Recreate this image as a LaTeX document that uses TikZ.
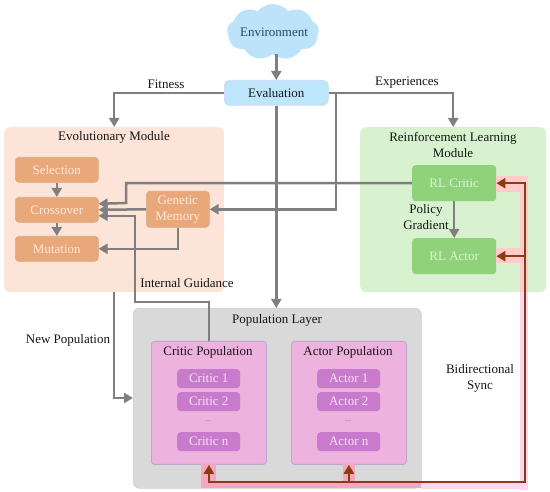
\documentclass[tikz,border=0pt]{standalone}
\usepackage{fontspec}
\setmainfont{Liberation Serif}
\usetikzlibrary{shapes.symbols,arrows.meta,calc}
\definecolor{flow}{HTML}{7F7F7F}
\definecolor{sync}{HTML}{8E3A10}
\definecolor{halogreen}{HTML}{FFCBCB}
\definecolor{halowhite}{HTML}{FFD6F2}
\definecolor{halogray}{HTML}{F4A8C0}
\tikzset{
  x=1pt,y=-1pt,
  txt/.style={font=\fontsize{13}{16}\selectfont,align=center,inner sep=0pt,text=black!92},
  panel/.style={rounded corners=6pt,anchor=north west,inner sep=0pt},
  evopanel/.style={panel,fill={rgb,255:red,252;green,228;blue,216}},
  rlpanel/.style={panel,fill={rgb,255:red,216;green,242;blue,208}},
  poppanel/.style={panel,fill={rgb,255:red,217;green,217;blue,217},draw={rgb,255:red,205;green,205;blue,210},line width=.5pt},
  subpanel/.style={rounded corners=3pt,anchor=north west,inner sep=0pt,fill={rgb,255:red,237;green,178;blue,222},draw={rgb,255:red,190;green,165;blue,205},line width=.8pt},
  box/.style={rounded corners=3.5pt,anchor=north west,inner sep=0pt,align=center,font=\fontsize{13}{16}\selectfont},
  evobox/.style={box,fill={rgb,255:red,233;green,168;blue,122},draw={rgb,255:red,218;green,170;blue,125},text={rgb,255:red,253;green,232;blue,218},line width=.6pt},
  rlbox/.style={box,fill={rgb,255:red,143;green,210;blue,122},text={rgb,255:red,222;green,244;blue,212}},
  popbox/.style={box,fill={rgb,255:red,200;green,122;blue,204},text={rgb,255:red,250;green,225;blue,245}},
  flowline/.style={draw=flow,line width=2.5pt,-{Triangle[length=9pt,width=10pt]}},
  syncline/.style={draw=sync,line width=2.5pt,-{Triangle[length=9pt,width=10pt]}},
  syncplain/.style={draw=sync,line width=2.5pt},
}
\begin{document}
\begin{tikzpicture}
\useasboundingbox (0,0) rectangle (550,492);
% halo parts lying on white, under the panels
\fill[halowhite] (520,292) rectangle (528,490);
\fill[halowhite] (421,482) rectangle (528,489);
% panels
\node[evopanel,minimum width=220pt,minimum height=165pt] (evo) at (4,127) {};
\node[rlpanel,minimum width=186pt,minimum height=165pt] (rl) at (360,127) {};
\node[poppanel,minimum width=288pt,minimum height=180pt] (pop) at (133,308) {};
\node[subpanel,minimum width=115pt,minimum height=123pt] (critpop) at (151,341) {};
\node[subpanel,minimum width=115pt,minimum height=123pt] (actpop) at (291,341) {};
% top
\node[cloud,cloud puffs=9,cloud puff arc=100,aspect=1.6,fill={rgb,255:red,189;green,227;blue,250},draw=none,inner sep=0pt,minimum width=92pt,minimum height=56pt] (env) at (273,32) {};
\node[txt,text={rgb,255:red,30;green,75;blue,95}] (envlabel) at (274,32) {Environment};
\node[box,rounded corners=5pt,fill={rgb,255:red,189;green,230;blue,250},draw={rgb,255:red,205;green,215;blue,240},line width=.6pt,minimum width=104pt,minimum height=25pt,text=black!90] (eval) at (224,80) {Evaluation};
% evolutionary
\node[evobox,minimum width=83pt,minimum height=25pt] (sel) at (15,157) {Selection};
\node[evobox,minimum width=83pt,minimum height=25pt] (cross) at (15,197) {Crossover};
\node[evobox,minimum width=83pt,minimum height=25pt] (mut) at (15,236) {Mutation};
\node[evobox,minimum width=63pt,minimum height=36pt] (mem) at (146,191) {Genetic\\Memory};
% RL
\node[rlbox,minimum width=84pt,minimum height=36pt] (rlc) at (412,165) {RL Critic};
\node[rlbox,minimum width=84pt,minimum height=36pt] (rla) at (412,238) {RL Actor};
% population boxes
\node[popbox,minimum width=63pt,minimum height=19pt] (c1) at (177,369) {Critic 1};
\node[popbox,minimum width=63pt,minimum height=19pt] (c2) at (177,392) {Critic 2};
\node[popbox,minimum width=63pt,minimum height=19pt] (cn) at (177,432) {Critic n};
\node[popbox,minimum width=63pt,minimum height=19pt] (a1) at (317,369) {Actor 1};
\node[popbox,minimum width=63pt,minimum height=19pt] (a2) at (317,392) {Actor 2};
\node[popbox,minimum width=63pt,minimum height=19pt] (an) at (317,432) {Actor n};
% titles & labels
\node[txt] (tevo) at (114,137) {Evolutionary Module};
\node[txt] (trl) at (453,145) {Reinforcement Learning\\Module};
\node[txt] (tpop) at (277,320) {Population Layer};
\node[txt] (tcp) at (208,352) {Critic Population};
\node[txt] (tap) at (348,352) {Actor Population};
\node[txt,font=\fontsize{8}{9}\selectfont,text=black!55] (cd) at (208,421) {...};
\node[txt,font=\fontsize{8}{9}\selectfont,text=black!55] (ad) at (348,421) {...};
\node[txt] (lfit) at (166,84) {Fitness};
\node[txt] (lexp) at (407,83) {Experiences};
\node[txt] (lint) at (187,283) {Internal Guidance};
\node[txt] (lnew) at (68,340) {New Population};
\node[txt] (lpg) at (426,217) {Policy\\Gradient};
\node[txt] (lsync) at (480,378) {Bidirectional\\Sync};
% named junctions
\coordinate (rail) at (525,482);
\coordinate (xa) at ($(cross.east)+(0,-6)$);
\coordinate (xb) at (cross.east);
\coordinate (xc) at ($(cross.east)+(0,6)$);
\coordinate (memin) at (mem.east);
\coordinate (split) at (336,92);
\coordinate (newtarget) at (133,398);
\coordinate (cpIn) at (critpop.south);
\coordinate (apIn) at (actpop.south);
% halos on the panels
\fill[halogreen] (520,176) rectangle (528,292);
\fill[halogreen] (496,176) rectangle (520,192);
\fill[halogreen] (496,248) rectangle (520,263);
\fill[halogray] (201,482) rectangle (421,488);
\fill[halogray] (201,464) rectangle (216,482);
\fill[halogray] (343,464) rectangle (355,482);
% flows
\draw[flowline] (eval.north |- env.south) -- (eval.north);
\draw[flowline] (eval.south) -- (pop.north -| eval.south);
\draw[flowline] (eval.west) -| (evo.north);
\draw[flowline] (eval.east) -| (rl.north);
\draw[flowline] (split) |- (memin);
\draw[flowline] (rlc.west) -| (126,203) -- (xa);
\draw[flowline] (mem.west) -- (xb);
\draw[flowline] (critpop.north) |- (135,302) |- (xc);
\draw[flowline] (mem.south) |- (mut.east);
\draw[flowline] (sel.south) -- (cross.north);
\draw[flowline] (cross.south) -- (mut.north);
\draw[flowline] (rlc.south) -- (rla.north);
\draw[flowline] (114,292) |- (newtarget);
% sync
\draw[syncplain,line cap=rect] (rlc.east -| rail) -- (rail) -- (cpIn |- rail);
\draw[syncline] (rlc.east -| rail) -- (rlc.east);
\draw[syncline] (rla.east -| rail) -- (rla.east);
\draw[syncline] (cpIn |- rail) -- (cpIn);
\draw[syncline] (apIn |- rail) -- (apIn);
\end{tikzpicture}
\end{document}
